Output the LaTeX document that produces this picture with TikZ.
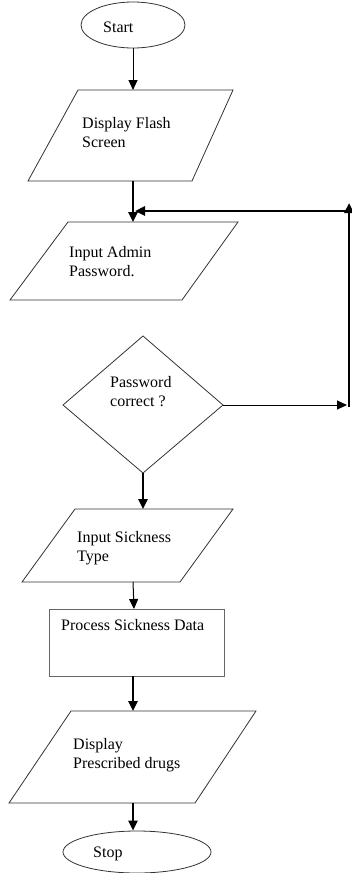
\documentclass[tikz,border=0pt]{standalone}
\usepackage{fontspec}
\setmainfont{Liberation Serif}
\usetikzlibrary{arrows.meta,shapes.geometric}
\begin{document}
\begin{tikzpicture}[x=1pt,y=-1pt,
  outline/.style={draw=black!80, line width=0.8pt},
  boxline/.style={draw=black!60, line width=1pt},
  txt/.style={anchor=base west, inner sep=0pt, align=left,
    font=\fontsize{16}{18.5}\selectfont},
  terminal/.style={ellipse, outline, inner sep=0pt},
  tip/.style={-{Triangle[length=10pt,width=9pt]}},
  flowbold/.style={tip, line width=2.4pt},
  flowfine/.style={tip, line width=1pt},
]
\useasboundingbox (0,0) rectangle (351,873);

% terminals
\node[terminal, minimum width=104pt, minimum height=46pt] (start) at (133,25) {};
\node[txt] (starttxt) at (103,32) {Start};
\node[terminal, minimum width=148pt, minimum height=42pt] (stop) at (137,852) {};
\node[txt] (stoptxt) at (93,857) {Stop};

% Display Flash Screen (base anchor sits on the last line)
\draw[outline] (78,90) -- (233,90) -- (192,181) -- (28,181) -- cycle;
\coordinate (dfsT) at (133,90);
\coordinate (dfsB) at (133,181);
\node[txt] (dfstxt) at (82,147) {Display Flash\\Screen};

% Input Admin Password
\draw[outline] (68,222) -- (238,222) -- (182,300) -- (10,300) -- cycle;
\coordinate (iapT) at (133,222);
\node[txt] (iaptxt) at (69,276) {Input Admin\\Password.};

% Password correct ?
\draw[outline] (143,336) -- (223,405) -- (143,473) -- (63,405) -- cycle;
\coordinate (pwR) at (223,405);
\coordinate (pwB) at (143,473);
\node[txt] (pwtxt) at (110,406) {Password\\correct ?};

% Input Sickness Type
\draw[outline] (75,509) -- (233,509) -- (180,582) -- (22,582) -- cycle;
\coordinate (istT) at (143,509);
\coordinate (istB) at (133,582);
\node[txt] (isttxt) at (77,561) {Input Sickness\\Type};

% Process Sickness Data
\node[boxline, rectangle, minimum width=175pt, minimum height=67pt, inner sep=0pt]
  (proc) at (136.5,642.5) {};
\coordinate (procT) at (134,609);
\coordinate (procB) at (133,676);
\node[txt] (proctxt) at (61,630) {Process Sickness Data};

% Display Prescribed drugs
\draw[outline] (71,711) -- (256,711) -- (195,803) -- (9,803) -- cycle;
\coordinate (dpdT) at (133,711);
\coordinate (dpdB) at (133,803);
\node[txt] (dpdtxt) at (73,768) {Display\\Prescribed drugs};

% loop back to the password input
\coordinate (loopB) at (349,407);
\coordinate (loopT) at (349,203);
\coordinate (loopC) at (349,211);
\coordinate (joinL) at (135,211);
\coordinate (loopIn) at (347,405);

% connectors
\draw[flowfine] (start.south) -- (dfsT);
\draw[flowbold] (dfsB) -- (iapT);
\draw[flowfine] (pwR) -- (loopIn);
\draw[flowbold] (loopB) -- (loopT);
\draw[flowbold] (loopC) -- (joinL);
\draw[flowbold] (pwB) -- (istT);
\draw[flowfine] (istB) -- (procT);
\draw[flowbold] (procB) -- (dpdT);
\draw[flowbold] (dpdB) -- (dpdB |- stop.north);
\end{tikzpicture}
\end{document}
